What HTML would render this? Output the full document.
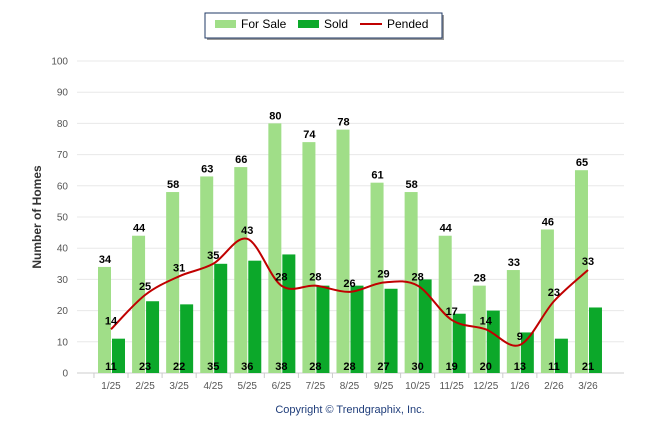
<!DOCTYPE html>
<html><head><meta charset="utf-8"><style>
body{margin:0;background:#fff;width:646px;height:434px;overflow:hidden;font-family:"Liberation Sans",sans-serif}
</style></head><body>
<svg id="s" width="646" height="434" xmlns="http://www.w3.org/2000/svg" font-family="Liberation Sans, sans-serif">
<rect x="207" y="15" width="237" height="25" fill="#999"/>
<rect x="205" y="13" width="237" height="25" fill="#fff" stroke="#1f3864" stroke-width="1"/>
<rect x="215" y="20" width="21" height="8" fill="#a0de88"/>
<text x="241" y="28" font-size="12" fill="#000">For Sale</text>
<rect x="298" y="20" width="21" height="8" fill="#0ca82a"/>
<text x="324" y="28" font-size="12" fill="#000">Sold</text>
<line x1="360" y1="24" x2="382" y2="24" stroke="#c00000" stroke-width="2"/>
<text x="387" y="28" font-size="12" fill="#000">Pended</text>
<text transform="translate(41,217) rotate(-90)" text-anchor="middle" font-size="12" font-weight="bold" fill="#333">Number of Homes</text>
<text x="350" y="413" text-anchor="middle" font-size="11" fill="#1f3d7a">Copyright © Trendgraphix, Inc.</text>
<g id="g"></g>
</svg>
<script>
var fs=[34,44,58,63,66,80,74,78,61,58,44,28,33,46,65];
var sd=[11,23,22,35,36,38,28,28,27,30,19,20,13,11,21];
var pd=[14,25,31,35,43,28,28,26,29,28,17,14,9,23,33];
var lb=["1/25","2/25","3/25","4/25","5/25","6/25","7/25","8/25","9/25","10/25","11/25","12/25","1/26","2/26","3/26"];
function Y(v){return 373-v*3.12}
function C(i){return 111+34.07*i}
var h="";
for(var v=0;v<=100;v+=10){var y=Y(v);h+='<line x1="77" x2="624" y1="'+y+'" y2="'+y+'" stroke="'+(v?'#e8e8e8':'#ccc')+'"/>';h+='<text x="68" y="'+(y+3.5)+'" text-anchor="end" font-size="10" fill="#555">'+v+'</text>';}
for(var i=0;i<15;i++){var c=C(i);
h+='<rect x="'+(c-13)+'" y="'+Y(fs[i])+'" width="13" height="'+(fs[i]*3.12)+'" fill="#a0de88"/>';
h+='<rect x="'+(c+1)+'" y="'+Y(sd[i])+'" width="13" height="'+(sd[i]*3.12)+'" fill="#0ca82a"/>';
h+='<line x1="'+(c-34.07/2)+'" x2="'+(c-34.07/2)+'" y1="373" y2="378" stroke="#ccc"/>';
h+='<text x="'+c+'" y="389" text-anchor="middle" font-size="10" fill="#555">'+lb[i]+'</text>';}
var p=pd.map(function(v,i){return [C(i),Y(v)]});
var d="M"+p[0][0]+","+p[0][1];
for(var i=0;i<14;i++){var p0=p[i?i-1:0],p1=p[i],p2=p[i+1],p3=p[i+2<15?i+2:14];
d+=" C"+(p1[0]+(p2[0]-p0[0])/6)+","+(p1[1]+(p2[1]-p0[1])/6)+" "+(p2[0]-(p3[0]-p1[0])/6)+","+(p2[1]-(p3[1]-p1[1])/6)+" "+p2[0]+","+p2[1];}
h+='<path d="'+d+'" fill="none" stroke="#c00000" stroke-width="2"/>';
for(var i=0;i<15;i++){var c=C(i);
h+='<text x="'+(c-6)+'" y="'+(Y(fs[i])-4)+'" text-anchor="middle" font-size="11" font-weight="bold">'+fs[i]+'</text>';
h+='<text x="'+c+'" y="'+(Y(pd[i])-5)+'" text-anchor="middle" font-size="11" font-weight="bold">'+pd[i]+'</text>';
h+='<text x="'+c+'" y="370" text-anchor="middle" font-size="11" font-weight="bold">'+sd[i]+'</text>';}
document.getElementById("g").innerHTML=h;
</script>
</body></html>
